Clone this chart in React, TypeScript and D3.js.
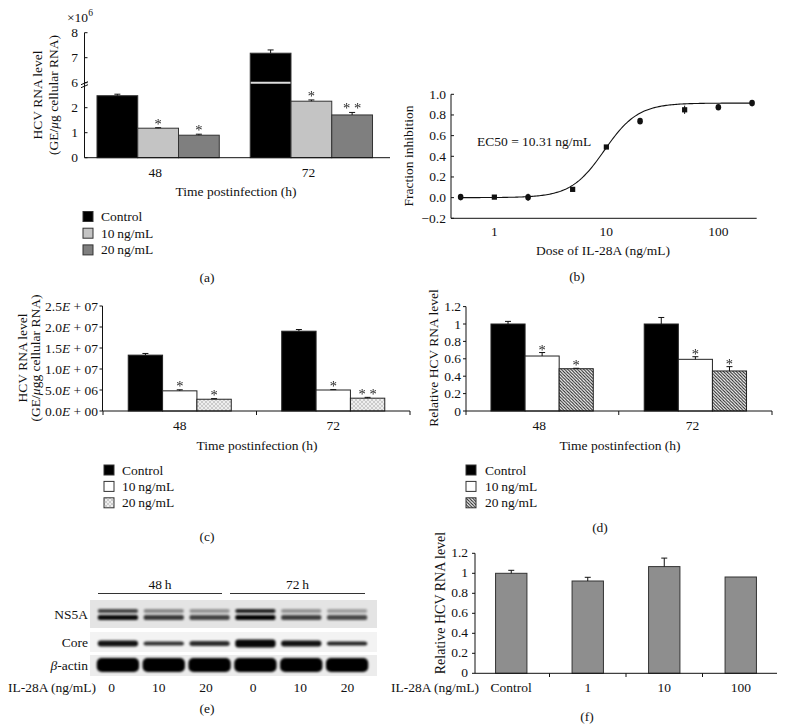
import React from 'react';
import * as d3 from 'd3';

const FONT = '"Liberation Serif", "Times New Roman", serif';

// ---------- Panel (a) ----------
const timeCats = ['48', '72'];
const doseSeries = ['Control', '10 ng/mL', '20 ng/mL'];
const aValues = [[2.48, 1.18, 0.9], [7.18, 2.26, 1.71]]; // ×10^6
const aErrors = [[0.06, 0.02, 0.04], [0.13, 0.05, 0.1]];
const aStars = [['', '*', '*'], ['', '*', '* *']];
const aTicks = [0, 1, 2, 6, 7, 8];

// ---------- Panel (b) ----------
const doses = [0.5, 1, 2, 5, 10, 20, 50, 100, 200];
const inhibition = [0.005, 0.005, 0.003, 0.08, 0.49, 0.74, 0.85, 0.875, 0.915];
const inhibitionErr = [0.015, 0.005, 0.035, 0.005, 0.01, 0.012, 0.04, 0.015, 0.015];
const markerShapes = ['circle', 'square', 'circle', 'square', 'square', 'circle', 'square', 'circle', 'circle'];
const bTicksY = [-0.2, 0, 0.2, 0.4, 0.6, 0.8, 1.0];
const bTicksX = [1, 10, 100];
const fitTop = 0.915;
const fitBottom = 0;
const fitMid = 9.6;
const fitHill = 2.9;

// ---------- Panel (c) ----------
const cValues = [[13.3e6, 4.8e6, 2.8e6], [19.0e6, 5.0e6, 3.05e6]];
const cErrors = [[0.4e6, 0.25e6, 0.15e6], [0.4e6, 0.1e6, 0.2e6]];
const cStars = [['', '*', '*'], ['', '*', '* *']];
const cTicks = [0, 5e6, 1e7, 1.5e7, 2e7, 2.5e7];

// ---------- Panel (d) ----------
const dValues = [[1.0, 0.632, 0.486], [1.0, 0.594, 0.46]];
const dErrors = [[0.03, 0.04, 0.005], [0.075, 0.03, 0.05]];
const dStars = [['', '*', '*'], ['', '*', '*']];
const dTicks = [0, 0.2, 0.4, 0.6, 0.8, 1, 1.2];

// ---------- Panel (e) ----------
const laneTimes = ['48 h', '72 h'];
const laneDoses = ['0', '10', '20', '0', '10', '20'];
const ns5aUpper = [0.7, 0.4, 0.35, 0.85, 0.35, 0.3];
const ns5aLower = [0.95, 0.75, 0.7, 0.98, 0.72, 0.68];
const coreBand = [0.92, 0.8, 0.82, 0.97, 0.92, 0.85];
const coreThick = [6, 4, 5, 8, 6, 4];
const actinBand = [1, 1, 1, 1, 1, 1];
const blotRows = ['NS5A', 'Core', 'β-actin'];

// ---------- Panel (f) ----------
const fCats = ['Control', '1', '10', '100'];
const fValues = [1.0, 0.923, 1.067, 0.963];
const fErrors = [0.03, 0.037, 0.085, 0.003];
const fTicks = [0, 0.2, 0.4, 0.6, 0.8, 1, 1.2];

const fs = 13.5;

function ErrorBar({ x, y0, y1 }: { x: number; y0: number; y1: number }) {
  return (
    <g stroke="#111" strokeWidth={1}>
      <line x1={x} x2={x} y1={y0} y2={y1} />
      <line x1={x - 3} x2={x + 3} y1={y1} y2={y1} />
    </g>
  );
}

function Star({ x, y, s }: { x: number; y: number; s: string }) {
  return (
    <g opacity={0.99}>
      <text x={x} y={y} textAnchor="middle" fontSize={14.5} fill="#222">{s}</text>
    </g>
  );
}

function PanelA() {
  const y = d3.scaleLinear().domain([0, 3, 6, 8]).range([157.7, 82.7, 82.7, 32.7]);
  const x = d3.scaleBand().domain(timeCats).range([81.5, 388]);
  const xi = d3.scaleBand().domain(doseSeries).range([0, x.bandwidth()]).paddingOuter(0.38);
  const fills = ['#000', '#c4c4c4', '#7f7f7f'];
  return (
    <g fontFamily={FONT} fontSize={fs} fill="#111">
      <text x={67} y={22} fontSize={13.5}>×10<tspan dy={-6} fontSize={9.5}>6</tspan></text>
      {timeCats.map((t, gi) =>
        doseSeries.map((s, si) => {
          const v = aValues[gi][si];
          const bx = (x(t) as number) + (xi(s) as number);
          const bw = xi.bandwidth();
          const top = y(v);
          const etop = y(v + aErrors[gi][si]);
          return (
            <g key={t + s}>
              <rect x={bx} y={top} width={bw} height={y(0) - top} fill={fills[si]} stroke="#333" strokeWidth={1} />
              {v > 6 && <line x1={bx + 0.5} x2={bx + bw - 0.5} y1={y(6)} y2={y(6)} stroke="#ddd" strokeWidth={2} />}
              <ErrorBar x={bx + bw / 2} y0={top} y1={etop} />
              {aStars[gi][si] && <Star x={bx + bw / 2} y={etop + 1} s={aStars[gi][si]} />}
            </g>
          );
        })
      )}
      <line x1={84.5} x2={84.5} y1={32.7} y2={157.7} stroke="#111" />
      <line x1={84.5} x2={390} y1={157.7} y2={157.7} stroke="#111" />
      <path d={`M81,${y(6) + 2} l7,-3 M81,${y(6) + 5} l7,-3`} stroke="#111" fill="none" />
      {aTicks.map((t) => (
        <g key={t}>
          <line x1={84.5} x2={87.5} y1={y(t)} y2={y(t)} stroke="#111" />
          <text x={78} y={y(t)} textAnchor="end" dominantBaseline="central">{t}</text>
        </g>
      ))}
      {timeCats.map((t) => (
        <text key={t} x={(x(t) as number) + x.bandwidth() / 2 - 3} y={172} textAnchor="middle" dominantBaseline="central">{t}</text>
      ))}
      <text x={236} y={191} textAnchor="middle" dominantBaseline="central">Time postinfection (h)</text>
      <text transform="translate(37,95) rotate(-90)" textAnchor="middle" dominantBaseline="central">HCV RNA level</text>
      <text transform="translate(53,95) rotate(-90)" textAnchor="middle" dominantBaseline="central">(GE/<tspan fontStyle="italic">μ</tspan>g cellular RNA)</text>
      {doseSeries.map((s, si) => (
        <g key={s}>
          <rect x={83} y={211.5 + si * 16.7} width={10} height={10} fill={fills[si]} stroke="#333" />
          <text x={101} y={216.5 + si * 16.7} dominantBaseline="central">{s.replace(' ', '\u2009')}</text>
        </g>
      ))}
      <text x={207} y={277} textAnchor="middle" dominantBaseline="central">(a)</text>
    </g>
  );
}

function PanelB() {
  const x = d3.scaleLog().domain([0.41, 220]).range([451, 756.7]);
  const y = d3.scaleLinear().domain([-0.2, 1.0]).range([218.3, 94.3]);
  const fmt = d3.format('.1f');
  const curvePts = d3.range(0, 201).map((i) => 0.5 * Math.pow(400, i / 200));
  const line = d3
    .line<number>()
    .x((d) => x(d))
    .y((d) => y(fitBottom + (fitTop - fitBottom) / (1 + Math.pow(fitMid / d, fitHill))));
  return (
    <g fontFamily={FONT} fontSize={fs} fill="#111">
      <path d={line(curvePts) as string} fill="none" stroke="#111" strokeWidth={1.1} />
      {doses.map((d, i) => {
        const cx = x(d);
        const cy = y(inhibition[i]);
        const e = inhibitionErr[i];
        return (
          <g key={d}>
            <line x1={cx} x2={cx} y1={y(inhibition[i] - e)} y2={y(inhibition[i] + e)} stroke="#111" />
            {markerShapes[i] === 'square' ? (
              <rect x={cx - 2.6} y={cy - 2.6} width={5.2} height={5.2} fill="#111" />
            ) : (
              <ellipse cx={cx} cy={cy} rx={2.8} ry={3.3} fill="#111" />
            )}
          </g>
        );
      })}
      <line x1={451} x2={451} y1={94.3} y2={218.3} stroke="#111" />
      <line x1={451} x2={756.7} y1={218.3} y2={218.3} stroke="#111" />
      {bTicksY.map((t) => (
        <g key={t}>
          <line x1={451} x2={454} y1={y(t)} y2={y(t)} stroke="#111" />
          <text x={446} y={y(t)} textAnchor="end" dominantBaseline="central">{fmt(t)}</text>
        </g>
      ))}
      {bTicksX.map((t) => (
        <text key={t} x={x(t)} y={231} textAnchor="middle" dominantBaseline="central">{t}</text>
      ))}
      <text x={477} y={141.7} dominantBaseline="central">EC50 = 10.31{'\u2009'}ng/mL</text>
      <text x={603} y={250} textAnchor="middle" dominantBaseline="central">Dose of IL-28A (ng/mL)</text>
      <text transform="translate(408,156) rotate(-90)" textAnchor="middle" dominantBaseline="central">Fraction inhibition</text>
      <text x={577} y={276} textAnchor="middle" dominantBaseline="central">(b)</text>
    </g>
  );
}

function sciLabel(v: number) {
  const [m, e] = v.toExponential(1).split('e');
  const ex = Math.abs(parseInt(e, 10)).toString().padStart(2, '0');
  return (
    <>
      {m}<tspan fontStyle="italic">E</tspan>{' + ' + ex}
    </>
  );
}

function PanelC() {
  const y = d3.scaleLinear().domain([0, 2.5e7]).range([411, 306]);
  const x = d3.scaleBand().domain(timeCats).range([103, 410]);
  const xi = d3.scaleBand().domain(doseSeries).range([0, x.bandwidth()]).paddingOuter(0.735);
  const fills = ['#000', '#fff', 'url(#stipple)'];
  return (
    <g fontFamily={FONT} fontSize={fs} fill="#111">
      {timeCats.map((t, gi) =>
        doseSeries.map((s, si) => {
          const v = cValues[gi][si];
          const bx = (x(t) as number) + (xi(s) as number);
          const bw = xi.bandwidth();
          const top = y(v);
          const etop = y(v + cErrors[gi][si]);
          return (
            <g key={t + s}>
              <rect x={bx} y={top} width={bw} height={y(0) - top} fill={fills[si]} stroke="#222" strokeWidth={1} />
              <ErrorBar x={bx + bw / 2} y0={top} y1={etop} />
              {cStars[gi][si] && <Star x={bx + bw / 2} y={etop + 1.5} s={cStars[gi][si]} />}
            </g>
          );
        })
      )}
      <line x1={102.5} x2={102.5} y1={306} y2={411} stroke="#111" />
      <line x1={102.5} x2={410} y1={411} y2={411} stroke="#111" />
      {[x.range()[0], (x('72') as number), x.range()[1]].map((tx, i) => (
        <line key={i} x1={tx} x2={tx} y1={411} y2={415} stroke="#111" />
      ))}
      {cTicks.map((t) => (
        <g key={t}>
          <line x1={99.5} x2={102.5} y1={y(t)} y2={y(t)} stroke="#111" />
          <text x={98} y={y(t)} textAnchor="end" dominantBaseline="central">{sciLabel(t)}</text>
        </g>
      ))}
      {timeCats.map((t) => (
        <text key={t} x={(x(t) as number) + x.bandwidth() / 2} y={425} textAnchor="middle" dominantBaseline="central">{t}</text>
      ))}
      <text x={257} y={445} textAnchor="middle" dominantBaseline="central">Time postinfection (h)</text>
      <text transform="translate(22,358) rotate(-90)" textAnchor="middle" dominantBaseline="central">HCV RNA level</text>
      <text transform="translate(35,358) rotate(-90)" textAnchor="middle" dominantBaseline="central">(GE/<tspan fontStyle="italic">μ</tspan>gg cellular RNA)</text>
      {doseSeries.map((s, si) => (
        <g key={s}>
          <rect x={104} y={465 + si * 16.4} width={10} height={10} fill={fills[si]} stroke="#333" />
          <text x={122} y={470 + si * 16.4} dominantBaseline="central">{s.replace(' ', '\u2009')}</text>
        </g>
      ))}
      <text x={207} y={536} textAnchor="middle" dominantBaseline="central">(c)</text>
    </g>
  );
}

function PanelD() {
  const y = d3.scaleLinear().domain([0, 1.2]).range([411, 306.6]);
  const x = d3.scaleBand().domain(timeCats).range([465.5, 772]);
  const xi = d3.scaleBand().domain(doseSeries).range([0, x.bandwidth()]).paddingOuter(0.747);
  const fills = ['#000', '#fff', 'url(#hatch)'];
  return (
    <g fontFamily={FONT} fontSize={fs} fill="#111">
      {timeCats.map((t, gi) =>
        doseSeries.map((s, si) => {
          const v = dValues[gi][si];
          const bx = (x(t) as number) + (xi(s) as number);
          const bw = xi.bandwidth();
          const top = y(v);
          const etop = y(v + dErrors[gi][si]);
          return (
            <g key={t + s}>
              <rect x={bx} y={top} width={bw} height={y(0) - top} fill={fills[si]} stroke="#222" strokeWidth={1} />
              <ErrorBar x={bx + bw / 2} y0={top} y1={etop} />
              {dStars[gi][si] && <Star x={bx + bw / 2} y={etop + 2} s={dStars[gi][si]} />}
            </g>
          );
        })
      )}
      <line x1={466} x2={466} y1={306.6} y2={411} stroke="#111" />
      <line x1={466} x2={772} y1={411} y2={411} stroke="#111" />
      {[466, (x('72') as number), 772].map((tx, i) => (
        <line key={i} x1={tx} x2={tx} y1={411} y2={415} stroke="#111" />
      ))}
      {dTicks.map((t) => (
        <g key={t}>
          <line x1={463} x2={466} y1={y(t)} y2={y(t)} stroke="#111" />
          <text x={461} y={y(t)} textAnchor="end" dominantBaseline="central">{t}</text>
        </g>
      ))}
      {timeCats.map((t) => (
        <text key={t} x={(x(t) as number) + x.bandwidth() / 2 - 3} y={425} textAnchor="middle" dominantBaseline="central">{t}</text>
      ))}
      <text x={620} y={445} textAnchor="middle" dominantBaseline="central">Time postinfection (h)</text>
      <text transform="translate(433,358) rotate(-90)" textAnchor="middle" dominantBaseline="central">Relative HCV RNA level</text>
      {doseSeries.map((s, si) => (
        <g key={s}>
          <rect x={466} y={465 + si * 16.4} width={10} height={10} fill={fills[si]} stroke="#333" />
          <text x={485} y={470 + si * 16.4} dominantBaseline="central">{s.replace(' ', '\u2009')}</text>
        </g>
      ))}
      <text x={600} y={527} textAnchor="middle" dominantBaseline="central">(d)</text>
    </g>
  );
}

function PanelE() {
  const x = d3.scaleBand().domain(d3.range(laneDoses.length).map(String)).range([95, 370]);
  const lx = (i: number) => (x(String(i)) as number) + x.bandwidth() / 2;
  const lw = x.bandwidth() * 0.88;
  const labelX = d3.scaleBand().domain(d3.range(laneDoses.length).map(String)).range([90, 373]);
  return (
    <g fontFamily={FONT} fontSize={fs} fill="#111">
      {laneTimes.map((t, i) => {
        const x0 = i === 0 ? 98 : 230;
        const x1 = i === 0 ? 222 : 365;
        return (
          <g key={t}>
            <text x={(x0 + x1) / 2} y={584} textAnchor="middle" dominantBaseline="central">{t.replace(' ', '\u2009')}</text>
            <line x1={x0} x2={x1} y1={593.5} y2={593.5} stroke="#333" />
          </g>
        );
      })}
      <rect x={90} y={600} width={287} height={28} fill="#e4e4e4" filter="url(#soft)" />
      <rect x={90} y={632} width={287} height={20} fill="#f3f3f3" />
      <rect x={90} y={655} width={287} height={21} fill="#ececec" filter="url(#soft)" />
      <g filter="url(#blur)">
        {laneDoses.map((d, i) => (
          <g key={i}>
            <rect x={lx(i) - lw / 2} y={609} width={lw} height={4} rx={2} fill="#000" opacity={ns5aUpper[i]} />
            <rect x={lx(i) - lw / 2} y={615} width={lw} height={5} rx={2} fill="#000" opacity={ns5aLower[i]} />
            <rect x={lx(i) - lw / 2} y={643.5 - coreThick[i] / 2} width={lw} height={coreThick[i]} rx={3} fill="#000" opacity={coreBand[i]} />
            <rect x={lx(i) - lw / 2 - 1} y={658} width={lw + 2} height={14} rx={5} fill="#000" opacity={actinBand[i]} />
          </g>
        ))}
      </g>
      <text x={88} y={614} textAnchor="end" dominantBaseline="central">{blotRows[0]}</text>
      <text x={88} y={642} textAnchor="end" dominantBaseline="central">{blotRows[1]}</text>
      <text x={88} y={665} textAnchor="end" dominantBaseline="central"><tspan fontStyle="italic">β</tspan>-actin</text>
      <text x={8} y={687} dominantBaseline="central">IL-28A (ng/mL)</text>
      {laneDoses.map((d, i) => (
        <text key={i} x={(labelX(String(i)) as number) + labelX.bandwidth() / 2 - 2} y={687} textAnchor="middle" dominantBaseline="central">{d}</text>
      ))}
      <text x={207} y={708} textAnchor="middle" dominantBaseline="central">(e)</text>
    </g>
  );
}

function PanelF() {
  const y = d3.scaleLinear().domain([0, 1.2]).range([673.3, 553.3]);
  const x = d3.scaleBand().domain(fCats).range([473, 779]).paddingInner(0.59).paddingOuter(0.295);
  const step = x.step();
  return (
    <g fontFamily={FONT} fontSize={fs} fill="#111">
      {fCats.map((c, i) => {
        const bx = x(c) as number;
        const bw = x.bandwidth();
        const top = y(fValues[i]);
        return (
          <g key={c}>
            <rect x={bx} y={top} width={bw} height={y(0) - top} fill="#8e8e8e" stroke="#333" strokeWidth={1} />
            {fErrors[i] > 0.01 && <ErrorBar x={bx + bw / 2} y0={top} y1={y(fValues[i] + fErrors[i])} />}
          </g>
        );
      })}
      <line x1={475} x2={475} y1={553.3} y2={673.3} stroke="#111" />
      <line x1={475} x2={777} y1={673.3} y2={673.3} stroke="#111" />
      {[1, 2, 3].map((k) => (
        <line key={k} x1={473 + k * step} x2={473 + k * step} y1={673.3} y2={677} stroke="#111" />
      ))}
      {fTicks.map((t) => (
        <g key={t}>
          <line x1={472} x2={475} y1={y(t)} y2={y(t)} stroke="#111" />
          <text x={468} y={y(t) - 1} textAnchor="end" dominantBaseline="central">{t}</text>
        </g>
      ))}
      {fCats.map((c) => (
        <text key={c} x={(x(c) as number) + x.bandwidth() / 2} y={687} textAnchor="middle" dominantBaseline="central">{c}</text>
      ))}
      <text x={479} y={687} textAnchor="end" dominantBaseline="central">IL-28A (ng/mL)</text>
      <text transform="translate(440,603) rotate(-90)" textAnchor="middle" dominantBaseline="central" fontSize={14}>Relative HCV RNA level</text>
      <text x={587} y={716} textAnchor="middle" dominantBaseline="central">(f)</text>
    </g>
  );
}

export default function App() {
  return (
    <svg width={787} height={725} style={{ position: 'absolute', left: 0, top: 0, background: '#fff' }}>
      <defs>
        <pattern id="stipple" width={4} height={4} patternUnits="userSpaceOnUse">
          <rect width={4} height={4} fill="#eeeeee" />
          <path d="M0,0 L4,4 M4,0 L0,4" stroke="#a8a8a8" strokeWidth={0.5} />
        </pattern>
        <pattern id="hatch" width={3.2} height={3.2} patternUnits="userSpaceOnUse">
          <rect width={3.2} height={3.2} fill="#fff" />
          <path d="M-1,-1 L4.2,4.2 M-1,2.2 L1,4.2 M2.2,-1 L4.2,1" stroke="#222" strokeWidth={1} />
        </pattern>
        <filter id="blur" x="-10%" y="-50%" width="120%" height="200%">
          <feGaussianBlur stdDeviation={1.1} />
        </filter>
        <filter id="soft">
          <feGaussianBlur stdDeviation={0.6} />
        </filter>
      </defs>
      <rect width={787} height={725} fill="#fff" />
      <PanelA />
      <PanelB />
      <PanelC />
      <PanelD />
      <PanelE />
      <PanelF />
    </svg>
  );
}
